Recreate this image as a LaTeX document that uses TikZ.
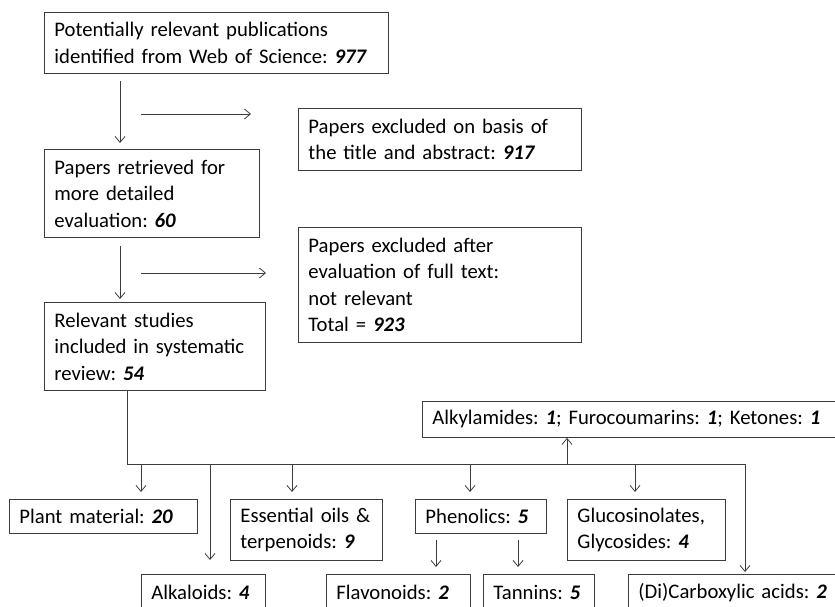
\documentclass[tikz,border=0pt]{standalone}
\usepackage{fontspec}
\setmainfont{Carlito}
\usetikzlibrary{arrows.meta}
\definecolor{linec}{HTML}{3C3C3C}
\newcommand{\num}[1]{\textbf{\textit{#1}}}
\newcommand{\bxfont}{\fontsize{20.7}{26.5}\selectfont\frenchspacing\spaceskip=4pt plus 2pt minus 1pt\relax}
\tikzset{
  box/.style={draw=linec, line width=0.9pt, rectangle, anchor=north west,
    inner xsep=10pt, inner ysep=0pt, align=left, font=\bxfont},
  arr/.style={draw=linec, line width=0.8pt, -{Straight Barb[length=6pt,width=10pt]}},
  ln/.style={draw=linec, line width=0.8pt}
}
\newcommand{\bx}[6]{\node[box, minimum width=#3pt, minimum height=#4pt, text width=#3pt-20pt] (#5) at (#1,#2) {#6};}
\begin{document}
\begin{tikzpicture}[x=1pt,y=-1pt]
\useasboundingbox (0,0) rectangle (835,607);
\clip (0,0) rectangle (835,607);
% boxes
\bx{44}{12}{344}{61}{b1}{Potentially relevant publications\\identified from Web of Science: \num{977}}
\bx{298}{108}{283}{62}{e1}{Papers excluded on basis of\\the title and abstract: \num{917}}
\bx{44}{149}{215}{88}{b2}{Papers retrieved for\\more detailed\\evaluation: \num{60}}
\bx{298}{227}{283}{115}{e2}{Papers excluded after\\evaluation of full text:\\not relevant\\Total = \num{923}}
\bx{44}{302}{221}{88}{b3}{Relevant studies\\included in systematic\\review: \num{54}}
\bx{422}{401}{430}{36}{alk}{Alkylamides: \num{1}; Furocoumarins: \num{1}; Ketones: \num{1}}
\bx{9}{499}{188}{34}{pm}{Plant material: \num{20}}
\bx{230}{499}{152}{61}{eo}{Essential oils \&\\terpenoids: \num{9}}
\bx{415}{499}{131}{34}{ph}{Phenolics: \num{5}}
\bx{567}{499}{158}{61}{gl}{Glucosinolates,\\Glycosides: \num{4}}
\bx{141}{574}{124}{36}{al}{Alkaloids: \num{4}}
\bx{326}{574}{144}{36}{fl}{Flavonoids: \num{2}}
\bx{483}{574}{111}{36}{ta}{Tannins: \num{5}}
\bx{628}{574}{230}{36}{di}{(Di)Carboxylic acids: \num{2}}
% main flow
\draw[arr] ([xshift=76pt,yshift=-7pt]b1.south west) -- ([xshift=76pt,yshift=6pt]b2.north west);
\draw[arr] ([xshift=76pt,yshift=-8pt]b2.south west) -- ([xshift=76pt,yshift=3pt]b3.north west);
\coordinate (h1s) at (141,114); \coordinate (h1e) at (251,114);
\coordinate (h2s) at (141,273); \coordinate (h2e) at (266,273);
\draw[arr] (h1s) -- (h1e);
\draw[arr] (h2s) -- (h2e);
% tree
\coordinate (j) at (127,464);
\coordinate (jr) at (745,464);
\draw[ln] ([xshift=83pt]b3.south west) -- (j) -- (jr);
\draw[arr] (jr) -- ([yshift=2pt]di.north west -| jr);
\draw[arr] (j -| 141,0) -- ([yshift=7pt]pm.north west -| 141,0);
\draw[arr] (j -| 210,0) -- ([yshift=14pt]al.north west -| 210,0);
\draw[arr] (j -| 292,0) -- ([yshift=7pt]eo.north west -| 292,0);
\draw[arr] (j -| 470,0) -- ([yshift=7pt]ph.north west -| 470,0);
\draw[arr] (j -| 635,0) -- ([yshift=7pt]gl.north west -| 635,0);
\draw[arr] (j -| 567,0) -- (alk.south west -| 567,0);
\draw[arr] ([yshift=-6pt]ph.south west -| 436,0) -- ([yshift=7pt]fl.north west -| 436,0);
\draw[arr] ([yshift=-6pt]ph.south west -| 518,0) -- ([yshift=7pt]ta.north west -| 518,0);
\end{tikzpicture}
\end{document}
